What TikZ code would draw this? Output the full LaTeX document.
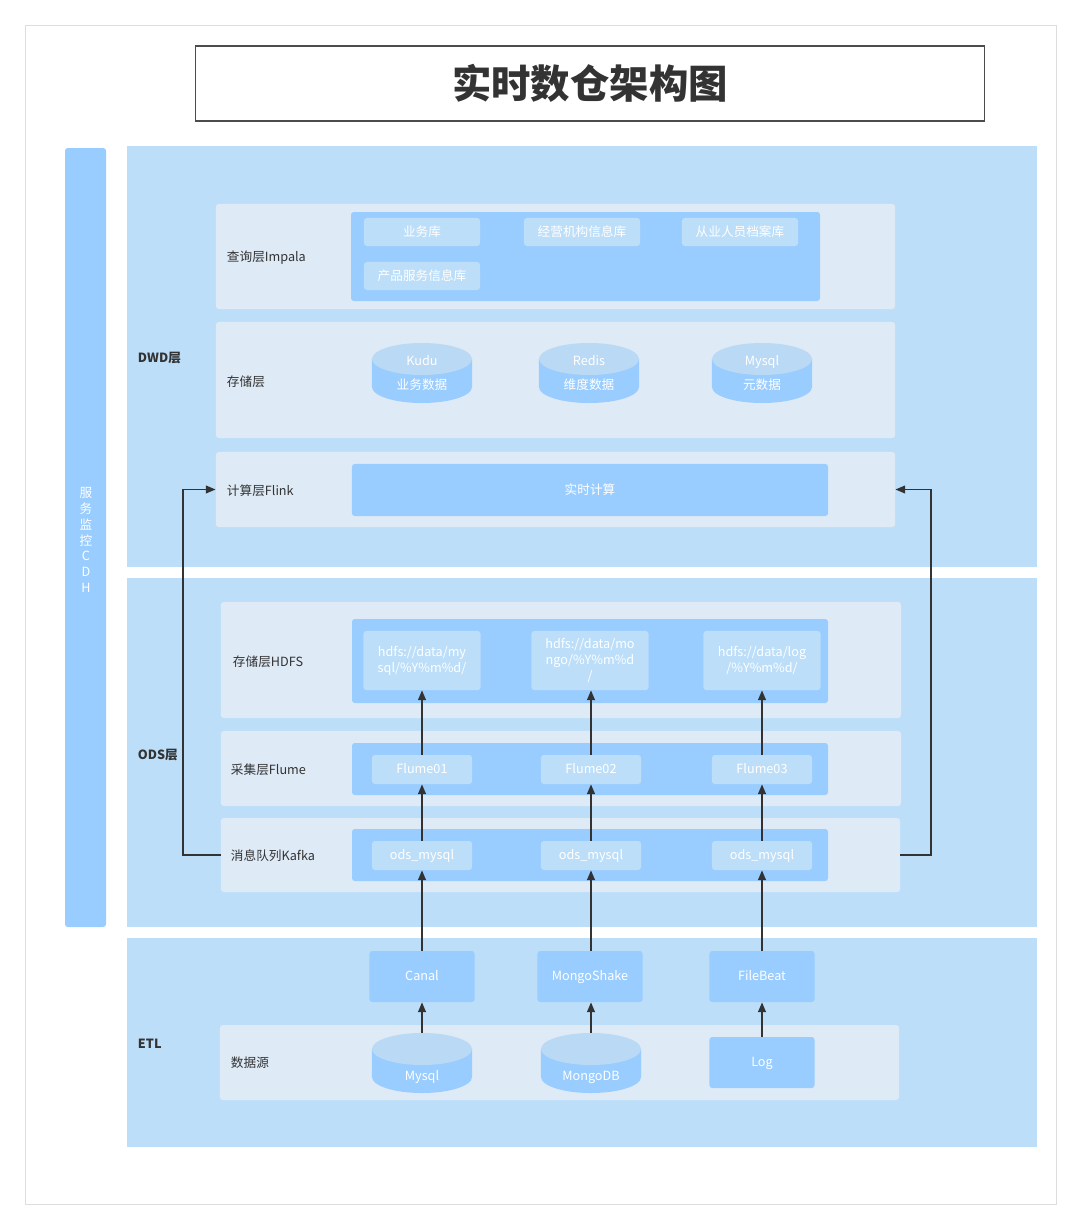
\documentclass[tikz,border=0pt]{standalone}
\usepackage{fontspec}
\setmainfont{Noto Sans CJK SC}
\definecolor{bandblue}{HTML}{BCDEF9}
\definecolor{rowgray}{HTML}{DEEAF6}
\definecolor{boxblue}{HTML}{99CCFF}
\definecolor{itemblue}{HTML}{BCDEF9}
\definecolor{cyltop}{HTML}{BAD9F5}
\definecolor{linegray}{HTML}{333333}
\definecolor{textgray}{HTML}{333333}
\definecolor{framegray}{HTML}{DDDDDD}
\usetikzlibrary{arrows.meta, calc}

\begin{document}
\begin{tikzpicture}[x=0.025cm, y=-0.025cm,
  layer/.style={fill=rowgray, rounded corners=2pt, inner sep=0pt, minimum width=16.975cm},
  holder/.style={fill=boxblue, rounded corners=2pt},
  item/.style={fill=itemblue, rounded corners=2pt, text=white, inner sep=0pt, align=center,
    font=\fontsize{9}{11.3}\selectfont, minimum width=2.9cm, minimum height=0.7cm},
  small/.style={item, minimum width=2.5cm, minimum height=0.725cm, text height=7pt, text depth=2pt},
  tool/.style={small, fill=boxblue, minimum width=2.625cm, minimum height=1.275cm},
  db/.style={fill=rowgray, inner sep=0pt, text=white, align=center,
    font=\fontsize{9}{17.7}\selectfont, minimum width=2.5cm, minimum height=1.5cm,
    path picture={
      \fill[boxblue] ($(path picture bounding box.north west)+(0,-0.4cm)$)
        -- ($(path picture bounding box.south west)+(0,0.4cm)$)
        arc[start angle=180, end angle=360, x radius=1.25cm, y radius=0.4cm]
        -- ($(path picture bounding box.north east)+(0,-0.4cm)$) -- cycle;
      \fill[cyltop] ($(path picture bounding box.north)+(0,-0.4cm)$)
        ellipse[x radius=1.25cm, y radius=0.4cm];
    }},
  lbl/.style={anchor=west, text=textgray, font=\fontsize{9}{11}\selectfont},
  bandlbl/.style={lbl, font=\fontsize{9}{11}\selectfont\bfseries},
  arr/.style={draw=linegray, line width=1.3pt, -{Triangle[length=7pt, width=5.5pt]}}]

  % page
  \fill[white] (0,0) rectangle (1081,1229);
  \draw[framegray] (25,25) rectangle (1056,1204);
  \node[draw=black!70, line width=0.8pt, minimum width=19.7cm, minimum height=1.875cm,
    font=\fontsize{28}{30}\selectfont\bfseries, text=textgray] (title) at (590,83.5) {实时数仓架构图};

  % monitoring bar
  \fill[boxblue, rounded corners=2pt] (65,148) rectangle (106,927);
  \node[text=white, align=center, font=\fontsize{9}{11.3}\selectfont] (cdh) at (86,540)
    {服\\务\\监\\控\\C\\D\\H};

  % bands
  \fill[bandblue] (127,146) rectangle (1037,567);
  \fill[bandblue] (127,578) rectangle (1037,927);
  \fill[bandblue] (127,938) rectangle (1037,1147);
  \node[bandlbl] (dwd) at (133,358) {DWD层};
  \node[bandlbl] (ods) at (133,755) {ODS层};
  \node[bandlbl] (etl) at (133,1044) {ETL};

  % DWD layers
  \node[layer, minimum height=2.625cm] (queryrow) at (555.5,256.5) {};
  \node[layer, minimum height=2.9cm] (storerow) at (555.5,380) {};
  \node[layer, minimum height=1.875cm] (flinkrow) at (555.5,489.5) {};
  \node[lbl] (querylbl) at (222,258) {查询层Impala};
  \node[lbl] (storelbl) at (222,382) {存储层};
  \node[lbl] (flinklbl) at (222,491) {计算层Flink};

  \fill[holder] (351,212) rectangle (820,301);
  \node[item] (biz) at (422,232) {业务库};
  \node[item] (org) at (582,232) {经营机构信息库};
  \node[item] (staff) at (740,232) {从业人员档案库};
  \node[item] (prod) at (422,276) {产品服务信息库};

  \node[db] (kudu) at (422,373) {Kudu\\业务数据};
  \node[db] (redis) at (589,373) {Redis\\维度数据};
  \node[db] (meta) at (762,373) {Mysql\\元数据};

  \node[item, fill=boxblue, minimum width=11.9cm, minimum height=1.3cm] (flink) at (590,490) {实时计算};

  % ODS layers
  \node[layer, minimum width=17cm, minimum height=2.9cm] (hdfsrow) at (561,660) {};
  \node[layer, minimum width=17cm, minimum height=1.875cm] (flumerow) at (561,768.5) {};
  \node[layer, minimum height=1.85cm] (kafkarow) at (560.5,855) {};
  \node[lbl] (hdfslbl) at (228,662) {存储层HDFS};
  \node[lbl] (flumelbl) at (226,770) {采集层Flume};
  \node[lbl] (kafkalbl) at (226,856) {消息队列Kafka};

  \fill[holder] (352,619) rectangle (828,703);
  \fill[holder] (352,743) rectangle (828,795);
  \fill[holder] (352,829) rectangle (828,881);

  \node[item, minimum width=2.925cm, minimum height=1.475cm] (hdfs1) at (422,660.5) {hdfs://data/my\\sql/\%Y\%m\%d/};
  \node[item, minimum width=2.925cm, minimum height=1.475cm] (hdfs2) at (590,660.5) {hdfs://data/mo\\ngo/\%Y\%m\%d\\/};
  \node[item, minimum width=2.925cm, minimum height=1.475cm] (hdfs3) at (762,660.5) {hdfs://data/log\\/\%Y\%m\%d/};

  \node[small] (flume1) at (422,769.5) {Flume01};
  \node[small] (flume2) at (591,769.5) {Flume02};
  \node[small] (flume3) at (762,769.5) {Flume03};

  \node[small] (kafka1) at (422,855.5) {ods\_mysql};
  \node[small] (kafka2) at (591,855.5) {ods\_mysql};
  \node[small] (kafka3) at (762,855.5) {ods\_mysql};

  % ETL
  \node[tool] (canal) at (422,976.5) {Canal};
  \node[tool] (shake) at (590,976.5) {MongoShake};
  \node[tool] (beat) at (762,976.5) {FileBeat};

  \node[layer, minimum height=1.875cm] (srcrow) at (559.5,1062.5) {};
  \node[lbl] (srclbl) at (226,1063) {数据源};
  \node[db] (mysql) at (422,1063) {\strut\\\strut Mysql};
  \node[db] (mongo) at (591,1063) {\strut\\\strut MongoDB};
  \node[tool] (log) at (762,1062.5) {Log};

  % flows
  \draw[arr] (mysql.north) -- (mysql.north |- canal.south);
  \draw[arr] (mongo.north) -- (mongo.north |- shake.south);
  \draw[arr] (log.north) -- (log.north |- beat.south);
  \draw[arr] (canal.north) -- (canal.north |- kafka1.south);
  \draw[arr] (shake.north -| kafka2) -- (kafka2.south);
  \draw[arr] (beat.north) -- (beat.north |- kafka3.south);
  \foreach \i in {1,2,3} {
    \draw[arr] (kafka\i.north) -- (flume\i.south);
    \draw[arr] (flume\i.north) -- (flume\i.north |- hdfs\i.south);
  }
  \draw[arr] (kafkarow.west) -- ++(-38,0) |- (flinkrow.west);
  \draw[arr] (kafkarow.east) -- ++(31,0) |- (flinkrow.east);
\end{tikzpicture}
\end{document}
